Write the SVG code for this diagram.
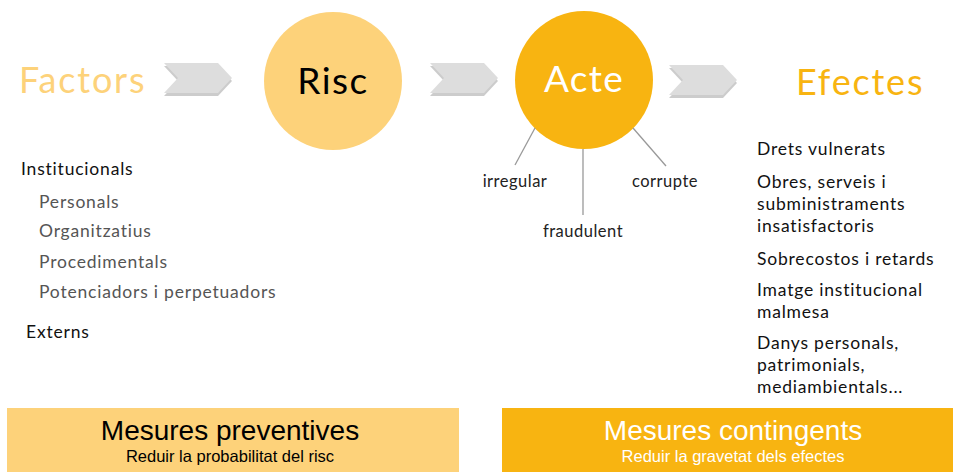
<svg xmlns="http://www.w3.org/2000/svg" width="953" height="472" viewBox="0 0 953 472">
<defs>
<style>
.t{font-family:"Lato","Open Sans","Liberation Sans",sans-serif;}
.big{font-size:36px;letter-spacing:1.8px;}
.lst{font-size:17.5px;fill:#111;letter-spacing:0.8px;}
.sub{font-size:17.5px;fill:#555;letter-spacing:0.8px;}
.lab{font-size:16.5px;fill:#222;letter-spacing:0.5px;}
.chev{fill:#DDDDDD;}
.chs{fill:#AAAAAA;opacity:0.6;}
.conn{stroke:#999;stroke-width:1.3;fill:none;}
.bt{font-family:"Liberation Sans","Arial",sans-serif;text-anchor:middle;}
</style>
<polygon id="chv" points="0,0 54,0 68,15 54,30 0,30 14,15"/>
</defs>
<rect width="953" height="472" fill="#fff"/>
<g id="factors"><text class="t big" x="19" y="93" fill="#FDD27A">Factors</text></g>
<g id="chevron1">
<use href="#chv" x="164" y="66" class="chs"/>
<use href="#chv" x="164" y="63" class="chev"/>
</g>
<g id="risc">
<circle cx="333" cy="81" r="69" fill="#FDD27A"/>
<text class="t" x="333" y="94" font-size="37" letter-spacing="1.5" text-anchor="middle" fill="#000">Risc</text>
</g>
<g id="chevron2">
<use href="#chv" x="430" y="66" class="chs"/>
<use href="#chv" x="430" y="63" class="chev"/>
</g>
<g id="acte">
<circle cx="584" cy="80" r="69" fill="#F8B411"/>
<text class="t" x="584" y="92" font-size="37" letter-spacing="1.3" text-anchor="middle" fill="#fff">Acte</text>
</g>
<g id="chevron3">
<use href="#chv" x="669" y="68" class="chs"/>
<use href="#chv" x="669" y="65" class="chev"/>
</g>
<g id="efectes"><text class="t big" x="796" y="95" fill="#F8B411">Efectes</text></g>
<g id="connectors">
<line class="conn" x1="535" y1="128" x2="515" y2="165"/>
<line class="conn" x1="583" y1="149" x2="583" y2="215"/>
<line class="conn" x1="633" y1="128" x2="666" y2="166"/>
</g>
<g id="irregular"><text class="t lab" x="515" y="187" text-anchor="middle">irregular</text></g>
<g id="fraudulent"><text class="t lab" x="583" y="237" text-anchor="middle">fraudulent</text></g>
<g id="corrupte"><text class="t lab" x="665" y="187" text-anchor="middle">corrupte</text></g>
<g id="factors-list">
<text class="t lst" x="21" y="175">Institucionals</text>
<text class="t sub" x="39" y="208">Personals</text>
<text class="t sub" x="39" y="237">Organitzatius</text>
<text class="t sub" x="39" y="268">Procedimentals</text>
<text class="t sub" x="39" y="298">Potenciadors i perpetuadors</text>
<text class="t lst" x="26" y="338">Externs</text>
</g>
<g id="efectes-list">
<text class="t lst" x="757" y="155">Drets vulnerats</text>
<text class="t lst" x="757" y="188">Obres, serveis i</text>
<text class="t lst" x="757" y="210">subministraments</text>
<text class="t lst" x="757" y="232">insatisfactoris</text>
<text class="t lst" x="757" y="265">Sobrecostos i retards</text>
<text class="t lst" x="757" y="296">Imatge institucional</text>
<text class="t lst" x="757" y="318">malmesa</text>
<text class="t lst" x="757" y="349">Danys personals,</text>
<text class="t lst" x="757" y="371">patrimonials,</text>
<text class="t lst" x="757" y="393">mediambientals...</text>
</g>
<g id="preventives">
<rect x="7" y="408" width="452" height="64" fill="#FDD27A"/>
<text class="bt" x="230" y="440" font-size="28" fill="#000">Mesures preventives</text>
<text class="bt" x="230" y="462" font-size="16.5" fill="#000">Reduir la probabilitat del risc</text>
</g>
<g id="contingents">
<rect x="502" y="408" width="451" height="64" fill="#F8B411"/>
<text class="bt" x="733" y="440" font-size="28" fill="#fff">Mesures contingents</text>
<text class="bt" x="733" y="462" font-size="16.5" fill="#fff">Reduir la gravetat dels efectes</text>
</g>
</svg>
